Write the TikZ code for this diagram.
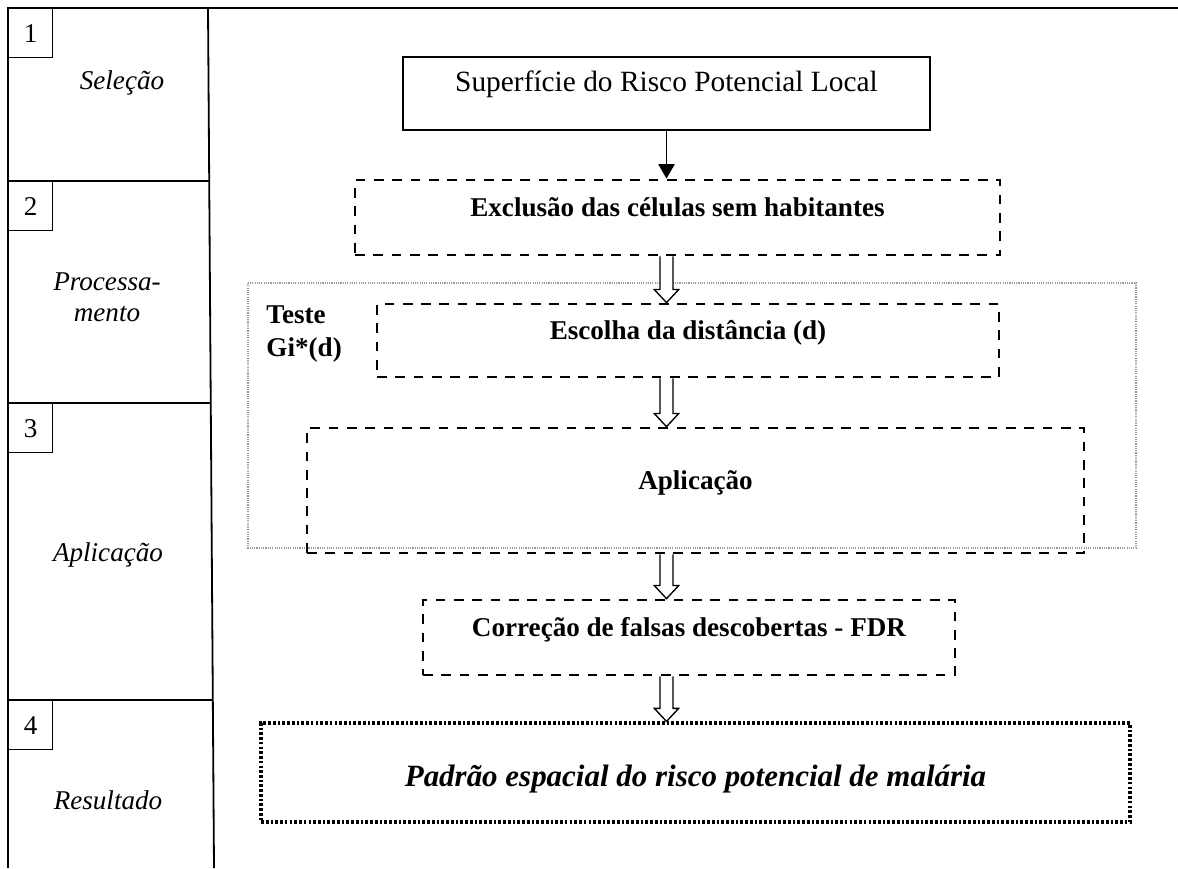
\documentclass[tikz,border=0pt]{standalone}
\usepackage{fontspec}
\setmainfont{Liberation Serif}
\usetikzlibrary{arrows.meta}
\usetikzlibrary{calc}

\begin{document}
\begin{tikzpicture}[x=0.4425pt,y=-0.4425pt,
  every node/.style={font=\fontsize{12}{13.8}\selectfont},
  frame/.style={line width=0.8pt},
  sep/.style={line width=0.6pt},
  num/.style={draw,line width=0.6pt,anchor=north west,inner sep=0pt,minimum width=19.5pt,minimum height=21.7pt},
  fase/.style={font=\fontsize{12}{13.8}\selectfont\itshape,align=center},
  caixa/.style={draw,line width=0.8pt,text height=8pt,text depth=9.5pt,font=\fontsize{13}{15}\selectfont},
  tracejada/.style={draw,line width=1.2pt,dash pattern=on 4.3pt off 3.8pt,text height=8pt,text depth=9pt,font=\fontsize{12}{13.8}\selectfont\bfseries},
  pontilhada/.style={draw,line width=1.4pt,dash pattern=on 1.2pt off 0.9pt,text height=15pt,text depth=2.4pt,font=\fontsize{13.7}{16.5}\selectfont\bfseries\itshape},
  grupo/.style={draw=gray!80,line width=0.5pt,dash pattern=on 0.5pt off 0.5pt},
  oca/.style={line width=0.6pt,fill=white,to path={let \p1=(\tikztostart),\p2=(\tikztotarget) in
    (\x1-2.9pt,\y1) -- (\x1-2.9pt,\y2+5.8pt) -- (\x1-5.4pt,\y2+5.8pt) -- (\x1,\y2)
    -- (\x1+5.4pt,\y2+5.8pt) -- (\x1+2.9pt,\y2+5.8pt) -- (\x1+2.9pt,\y1)}}]
  \useasboundingbox (0,0) rectangle (1178,868);

  % tabela da esquerda
  \draw[frame] (8,868) -- (8,8) -- (1178,8);
  \draw[frame] (208,8) -- (214,868);
  \draw[sep] (8,181) -- (209.2,181);
  \draw[sep] (8,403) -- (210.8,403);
  \draw[sep] (8,700) -- (212.9,700);

  \node[num] (n1) at (8,8) {1};
  \node[num] (n2) at (8,181) {2};
  \node[num] (n3) at (8,403) {3};
  \node[num] (n4) at (8,700) {4};

  \node[fase] (selecao) at (122,83) {Seleção};
  \node[fase] (processamento) at (107,297) {Processa-\\mento};
  \node[fase] (aplicacao) at (108,555) {Aplicação};
  \node[fase] (resultado) at (108,800) {Resultado};

  % teste Gi*(d)
  \draw[grupo] (248,283) rectangle (1136,548);
  \node[anchor=north west,inner sep=0pt,align=left,font=\fontsize{12}{14.6}\selectfont\bfseries] (teste) at (266,305) {Teste\\Gi*(d)};

  \node[caixa,minimum width=233.2pt,minimum height=32.3pt] (b1) at (666.5,93.5) {Superfície do Risco Potencial Local};
  \node[tracejada,minimum width=285.4pt,minimum height=33.2pt] (b2) at (677.5,217.5) {Exclusão das células sem habitantes};
  \node[tracejada,minimum width=275.2pt,minimum height=32.3pt] (b3) at (688,340.5) {Escolha da distância (d)};
  \node[tracejada,minimum width=343.8pt,minimum height=55.3pt] (b4) at (695.5,490.5) {Aplicação};
  \node[tracejada,minimum width=235.4pt,minimum height=33.2pt] (b5) at (689,637.5) {Correção de falsas descobertas - FDR};
  \node[pontilhada,minimum width=384.5pt,minimum height=43.8pt] (b6) at (695.5,772.5) {Padrão espacial do risco potencial de malária};

  \draw[line width=0.6pt,-{Triangle[length=6.4pt,width=7.2pt]}] (b1.south) -- (b1.south |- b2.north);
  \draw[oca] (b1.south |- b2.south) to (b1.south |- b3.north);
  \draw[oca] (b1.south |- b3.south) to (b1.south |- b4.north);
  \draw[oca] (b1.south |- b4.south) to (b1.south |- b5.north);
  \draw[oca] (b1.south |- b5.south) to (b1.south |- b6.north);
\end{tikzpicture}
\end{document}
